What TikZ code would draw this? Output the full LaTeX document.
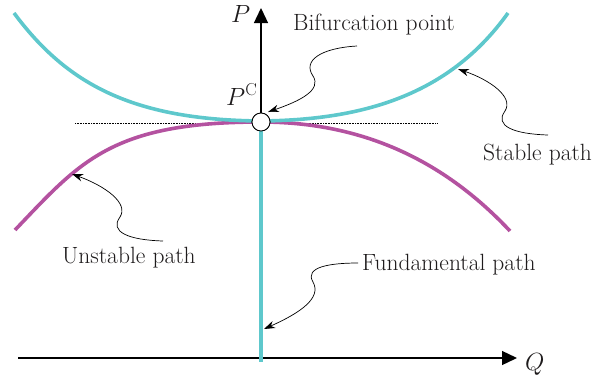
\documentclass[tikz,border=0pt]{standalone}
\usepackage{amsmath}
\usepackage{tikz}
\usetikzlibrary{positioning,calc,arrows.meta}
\definecolor{stablecol}{RGB}{94,200,204}
\definecolor{unstablecol}{RGB}{180,82,160}
\definecolor{textcol}{RGB}{30,27,28}

\begin{document}
\begin{tikzpicture}[x=1pt, y=-1pt, >={Stealth[length=11pt,width=7.5pt]}, axis/.style = {draw=black, line width=1.3pt, -{Triangle[length=15pt,width=14pt]}}, stablepath/.style = {draw=stablecol, line width=3.6pt}, unstablepath/.style = {draw=unstablecol, line width=3.6pt}, note/.style = {draw=black, line width=0.7pt, ->}, lbl/.style = {anchor=base west, inner sep=0pt, text=textcol, font=\fontsize{23.5}{28}\selectfont}, bifpt/.style = {circle, draw=black, fill=white, line width=0.8pt, minimum size=18pt, inner sep=0pt}]

\useasboundingbox (0,0) rectangle (608,383);

% axes
\coordinate (O) at (261,358);
\coordinate (Qend) at (517,358);
\coordinate (Pend) at (261,8);
\draw[axis] (18,358) -- (Qend);
\draw[axis] (O) -- (Pend);

\node[lbl] (Q) at (525,370) {$Q$};
\node[lbl] (P) at (231,22) {$P$};
\node[lbl] (PC) at (226,105) {$P^{\mathrm{C}}$};

% critical load level
\draw[densely dotted, line width=0.6pt] (75,123) -- (437,123);

% post-buckling paths
\coordinate (C) at (261,121);
\draw[unstablepath] (15,230) .. controls (80,162) and (111,122) .. (261,122) .. controls (371,122) and (450,167) .. (510,231);
\draw[stablepath] (14,13) .. controls (66,83) and (131,120) .. (C) .. controls (360,120) and (448,97) .. (508,13);

% fundamental path
\node[bifpt] (bif) at (261,122) {};
\draw[stablepath] (bif.south) -- (261,362);
\node[bifpt] at (bif) {};

% labels
\node[lbl] (biflbl) at (293,30) {Bifurcation point};
\node[lbl] (stablelbl) at (483,160) {Stable path};
\node[lbl] (unstablelbl) at (62,263) {Unstable path};
\node[lbl] (fundlbl) at (362,270) {Fundamental path};

\coordinate (bifA) at (357,46);
\coordinate (bifB) at (268,112);
\coordinate (stA) at (548,135);
\coordinate (stB) at (458,69);
\coordinate (unA) at (163,241);
\coordinate (unB) at (72,174);
\coordinate (fuA) at (358,263);
\coordinate (fuB) at (264,329);

\draw[note] (bifA) .. controls (322,48) and (302,60) .. (313,76) .. controls (322,90) and (300,101) .. (bifB);
\draw[note] (stA) .. controls (514,134) and (494,126) .. (505,111) .. controls (514,97) and (490,80) .. (stB);
\draw[note] (unA) .. controls (129,240) and (109,232) .. (120,217) .. controls (129,203) and (105,186) .. (unB);
\draw[note] (fuA) .. controls (330,263) and (304,267) .. (313,282) .. controls (322,298) and (300,313) .. (fuB);
\end{tikzpicture}
\end{document}
